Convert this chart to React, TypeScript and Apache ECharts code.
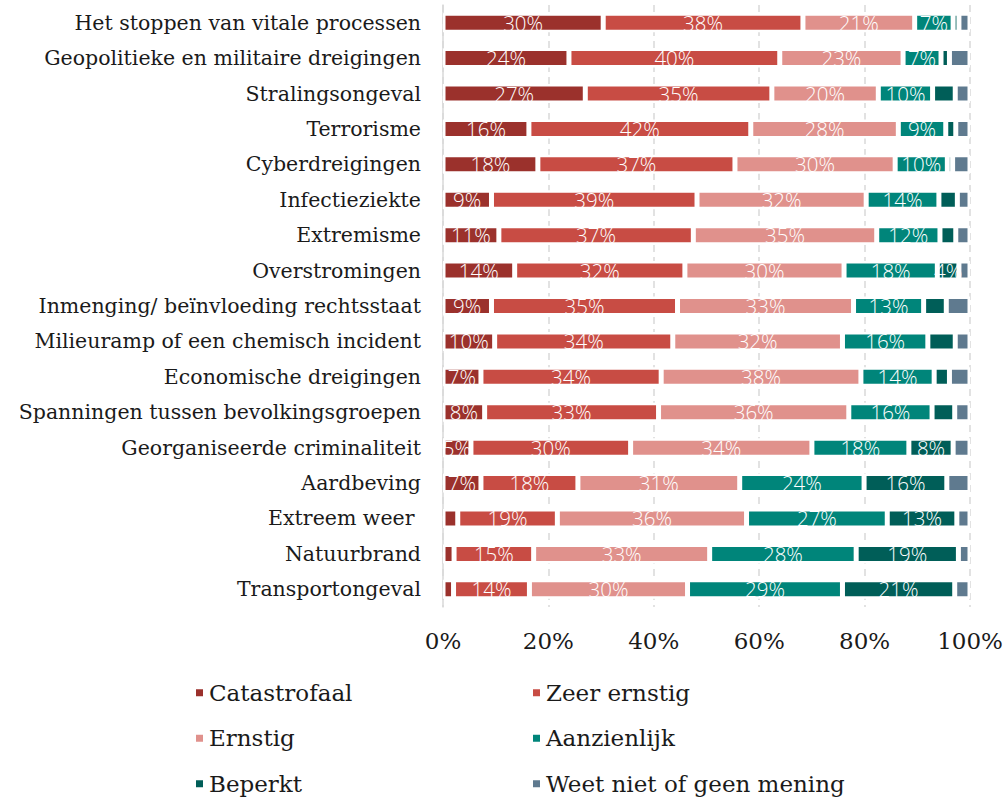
import React, { useEffect, useRef } from "react";
import * as echarts from "echarts";

const categories = [
  "Het stoppen van vitale processen",
  "Geopolitieke en militaire dreigingen",
  "Stralingsongeval",
  "Terrorisme",
  "Cyberdreigingen",
  "Infectieziekte",
  "Extremisme",
  "Overstromingen",
  "Inmenging/ beïnvloeding rechtsstaat",
  "Milieuramp of een chemisch incident",
  "Economische dreigingen",
  "Spanningen tussen bevolkingsgroepen",
  "Georganiseerde criminaliteit",
  "Aardbeving",
  "Extreem weer ",
  "Natuurbrand",
  "Transportongeval",
];

const catastrofaal = [30.4, 23.9, 27.0, 16.3, 18.0, 9.2, 10.6, 13.6, 9.2, 9.8, 7.2, 7.9, 5.3, 7.2, 2.8, 2.1, 2.0];
const zeerErnstig = [37.9, 40.0, 35.4, 42.1, 37.4, 39.0, 36.9, 32.3, 35.3, 33.8, 34.2, 33.0, 30.3, 18.4, 18.9, 15.1, 14.4];
const ernstig = [21.2, 23.4, 20.2, 28.0, 30.4, 32.1, 34.8, 30.2, 33.4, 32.2, 37.9, 36.1, 34.4, 30.7, 35.9, 33.4, 30.0];
const aanzienlijk = [7.3, 7.2, 10.3, 9.0, 9.9, 13.8, 12.0, 17.7, 13.3, 16.2, 13.9, 15.8, 18.4, 23.6, 26.7, 27.8, 29.4];
const beperkt = [1.1, 1.6, 4.3, 1.9, 1.0, 3.5, 3.0, 4.1, 4.3, 5.2, 2.9, 4.3, 8.4, 15.7, 13.2, 19.4, 21.3];
const weetNiet = [2.1, 3.9, 2.8, 2.7, 3.3, 2.4, 2.7, 2.1, 4.5, 2.8, 3.9, 2.9, 3.2, 4.4, 2.5, 2.2, 2.9];

const seriesNames = ["Catastrofaal", "Zeer ernstig", "Ernstig", "Aanzienlijk", "Beperkt", "Weet niet of geen mening"];
const xTicks = [0, 20, 40, 60, 80, 100];

// categories whose "Beperkt" segment carries a label in the original
const labeledBeperkt = [
  "Overstromingen",
  "Georganiseerde criminaliteit",
  "Aardbeving",
  "Extreem weer ",
  "Natuurbrand",
  "Transportongeval",
];

const colors = ["#9b312c", "#c84c44", "#e0918c", "#00857a", "#005e58", "#5f7a8f"];

const SERIF = "'DejaVu Serif', serif";

export default function App() {
  const ref = useRef<HTMLDivElement>(null);
  useEffect(() => {
    if (!ref.current) return;
    document.body.style.margin = "0";
    const chart = echarts.init(ref.current, null, { renderer: "svg" });
    const allData = [catastrofaal, zeerErnstig, ernstig, aanzienlijk, beperkt, weetNiet];
    const series = allData.map((vals, si) => ({
      name: seriesNames[si],
      type: "bar",
      stack: "total",
      barWidth: 19,
      itemStyle: { color: colors[si], borderColor: "#ffffff", borderWidth: 2.5 },
      label: {
        show: true,
        position: "inside",
        color: "#ffffff",
        fontFamily: "'Open Sans', sans-serif",
        fontWeight: 300,
        fontSize: 20.5,
        formatter: (p: any) => {
          const v = p.value as number;
          if (si === 5) return "";
          if (si === 4) return labeledBeperkt.includes(p.name) ? Math.round(v) + "%" : "";
          return v >= 4.5 ? Math.round(v) + "%" : "";
        },
      },
      data: vals,
    }));
    chart.setOption({
      animation: false,
      color: colors,
      grid: { left: 443, right: 36, top: 5, bottom: 191, containLabel: false },
      xAxis: {
        type: "value",
        min: 0,
        max: 100,
        interval: 20,
        axisLine: { show: false },
        axisTick: { show: false },
        axisLabel: {
          formatter: (v: number) => (xTicks.includes(v) ? v + "%" : ""),
          fontFamily: SERIF,
          fontSize: 23,
          color: "#1a1a1a",
          margin: 22,
        },
        splitLine: { show: true, lineStyle: { color: "#d9d9d9", width: 1.5, type: [7, 5] } },
      },
      yAxis: {
        type: "category",
        data: categories,
        inverse: true,
        axisLine: { show: true, lineStyle: { color: "#d9d9d9", width: 1.5 } },
        axisTick: { show: false },
        axisLabel: {
          fontFamily: SERIF,
          fontSize: 20.5,
          color: "#1a1a1a",
          margin: 22,
        },
      },
      legend: {
        left: 194,
        top: 675,
        width: 700,
        padding: 0,
        itemWidth: 9,
        itemHeight: 9,
        itemGap: 10,
        icon: "rect",
        data: seriesNames,
        textStyle: {
          fontFamily: SERIF,
          fontSize: 23,
          color: "#1a1a1a",
          width: 312,
          lineHeight: 35.5,
        },
      },
      series,
    });
    return () => chart.dispose();
  }, []);
  return <div ref={ref} style={{ width: 1006, height: 798 }} />;
}
